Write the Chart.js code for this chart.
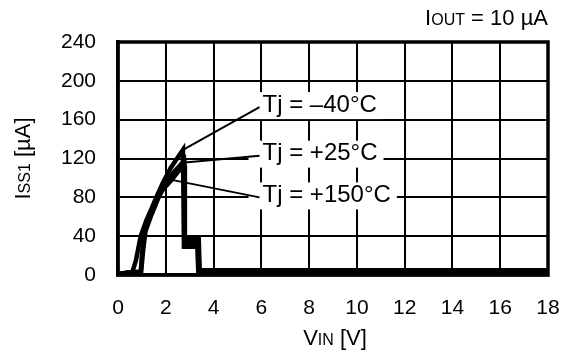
<!DOCTYPE html>
<html><head><meta charset="utf-8">
<script src="https://cdn.jsdelivr.net/npm/chart.js@4"></script>
<style>html,body{margin:0;padding:0;background:#fff}</style>
</head><body>
<canvas id="c" width="562" height="352"></canvas>
<script>
// ---- data ----
const xTicks = [0, 2, 4, 6, 8, 10, 12, 14, 16, 18];
const yTicks = [0, 40, 80, 120, 160, 200, 240];

const vinM40 = [0, 0.6, 0.95, 1.0, 1.1, 1.3, 1.6, 1.9, 2.2, 2.5, 2.72, 2.76, 3.32, 3.36, 18];
const issM40 = [1, 3, 3, 20, 45, 62, 80, 96, 110, 121, 129, 29, 29, 4, 4];

const vinP25 = [0, 0.6, 0.97, 1.05, 1.15, 1.4, 1.7, 2.0, 2.3, 2.6, 2.76, 2.79, 3.38, 3.42, 18];
const issP25 = [1, 3, 3, 25, 45, 62, 80, 94, 105, 113, 118, 37, 37, 3, 3];

const vinP150 = [0, 0.6, 0.75, 0.95, 1.2, 1.5, 1.8, 2.25, 2.5, 2.78, 2.8, 3.36, 3.4, 18];
const issP150 = [1, 3, 15, 40, 57, 72, 86, 98, 106, 113, 33, 33, 5, 5];

const seriesNames = ["Tj = \u201340\u00b0C", "Tj = +25\u00b0C", "Tj = +150\u00b0C"];
// where each leader line touches its curve (data coords)
const leaderPoint = [[2.72, 129], [2.8, 116], [2.25, 98]];
// label anchor (data coords: left edge / vertical middle of text)
const labelAnchor = [[6.05, 175], [6.05, 125], [6.05, 82]];

const FONT = "'Liberation Sans', Arial, sans-serif";

function pts(xs, ys) { return xs.map((x, i) => ({ x: x, y: ys[i] })); }

const ds = (xs, ys) => ({
  data: pts(xs, ys), borderColor: '#000', borderWidth: 4.5, pointRadius: 0,
  fill: false, tension: 0, borderJoinStyle: 'miter'
});

function drawSub(ctx, parts, x, y, align) {
  let w = 0;
  parts.forEach(p => { ctx.font = p[1] + 'px ' + FONT; w += ctx.measureText(p[0]).width; });
  let cx = align === 'right' ? x - w : (align === 'center' ? x - w / 2 : x);
  parts.forEach(p => {
    ctx.font = p[1] + 'px ' + FONT;
    ctx.fillText(p[0], cx, y + (p[2] || 0));
    cx += ctx.measureText(p[0]).width;
  });
}

const decor = {
  id: 'decor',
  afterDatasetsDraw(chart) {
    const ctx = chart.ctx, a = chart.chartArea;
    const xs = chart.scales.x, ys = chart.scales.y;
    ctx.save();
    ctx.strokeStyle = '#000'; ctx.lineWidth = 3.5;
    ctx.strokeRect(a.left, a.top, a.right - a.left, a.bottom - a.top);

    ctx.textBaseline = 'middle';
    seriesNames.forEach((t, i) => {
      const lx = xs.getPixelForValue(labelAnchor[i][0]);
      const ly = ys.getPixelForValue(labelAnchor[i][1]);
      ctx.font = '24px ' + FONT;
      const w = ctx.measureText(t).width;
      ctx.fillStyle = '#fff';
      ctx.fillRect(lx - 14, ly - 13, w + 20, 27);
      ctx.strokeStyle = '#000'; ctx.lineWidth = 2;
      ctx.beginPath();
      ctx.moveTo(lx - 3, ly + 2);
      ctx.lineTo(xs.getPixelForValue(leaderPoint[i][0]), ys.getPixelForValue(leaderPoint[i][1]));
      ctx.stroke();
      ctx.fillStyle = '#000';
      ctx.fillText(t, lx, ly);
    });

    ctx.textBaseline = 'alphabetic';
    drawSub(ctx, [['V', 22], ['IN', 16], [' [V]', 22]], (a.left + a.right) / 2 + 2, 345, 'center');
    drawSub(ctx, [['I', 22], ['OUT', 16], [' = 10 \u00b5A', 22]], a.right, 25, 'right');
    ctx.save();
    ctx.translate(30, (a.top + a.bottom) / 2);
    ctx.rotate(-Math.PI / 2);
    drawSub(ctx, [['I', 22], ['SS1', 16], [' [\u00b5A]', 22]], 0, 0, 'center');
    ctx.restore();
    ctx.restore();
  }
};

function noPad(s) { s.paddingLeft = 0; s.paddingRight = 0; s.paddingTop = 0; s.paddingBottom = 0; }

new Chart(document.getElementById('c'), {
  type: 'line',
  data: { datasets: [ds(vinM40, issM40), ds(vinP25, issP25), ds(vinP150, issP150)] },
  options: {
    responsive: false, animation: false, devicePixelRatio: 1,
    layout: { padding: { top: 42, right: 14, left: 0, bottom: 0 } },
    plugins: { legend: { display: false }, tooltip: { enabled: false } },
    scales: {
      x: {
        type: 'linear', min: 0, max: 18,
        afterBuildTicks: s => { s.ticks = xTicks.map(v => ({ value: v })); },
        afterFit: s => { s.height = 77; noPad(s); },
        grid: { color: '#000', lineWidth: 2, drawTicks: false },
        border: { color: '#000', width: 3.5 },
        ticks: { color: '#000', padding: 21, font: { family: FONT, size: 21 }, maxRotation: 0 }
      },
      y: {
        min: 0, max: 240,
        afterBuildTicks: s => { s.ticks = yTicks.map(v => ({ value: v })); },
        afterFit: s => { s.width = 118; noPad(s); },
        grid: { color: '#000', lineWidth: 2, drawTicks: false },
        border: { color: '#000', width: 3.5 },
        ticks: { color: '#000', padding: 22, font: { family: FONT, size: 21 } }
      }
    }
  },
  plugins: [decor]
});
</script>
</body></html>
